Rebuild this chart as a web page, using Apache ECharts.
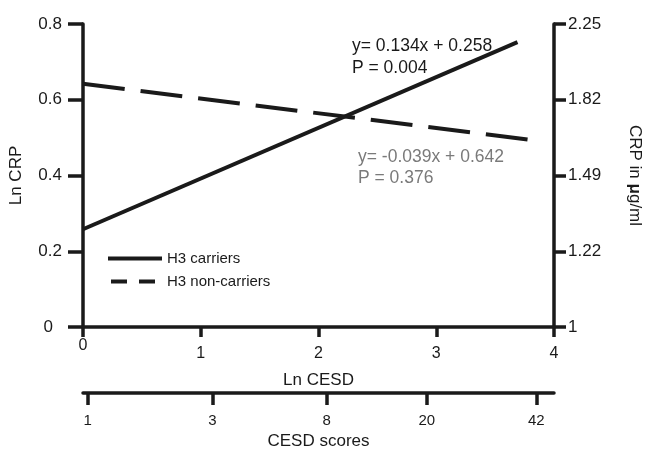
<!DOCTYPE html>
<html>
<head>
<meta charset="utf-8">
<script src="https://cdn.jsdelivr.net/npm/echarts@6/dist/echarts.min.js"></script>
<style>
html,body{margin:0;padding:0;background:#fff;}
#c{width:648px;height:449px;}
</style>
</head>
<body>
<div id="c"></div>
<script>
// ---- data ----
const carriersLine = [[0, 0.258], [3.69, 0.752]];
const nonCarriersLine = [[0, 0.642], [3.78, 0.495]];
const seriesNames = ['H3 carriers', 'H3 non-carriers'];
const leftTicks = [0, 0.2, 0.4, 0.6, 0.8];
const rightTickLabels = ['1', '1.22', '1.49', '1.82', '2.25'];
const cesdPositions = [0.04, 1.1, 2.07, 2.92, 3.85];
const cesdLabels = ['1', '3', '8', '20', '42'];
const carriersText = ['y= 0.134x + 0.258', 'P = 0.004'];
const nonCarriersText = ['y= -0.039x + 0.642', 'P = 0.376'];

const FONT = '"Liberation Sans", Arial, Helvetica, sans-serif';
const INK = '#1a1a1a';
const AXW = 3.5;

const chart = echarts.init(document.getElementById('c'), null, {renderer: 'canvas'});

const axisLineStyle = {show: true, onZero: false, lineStyle: {color: INK, width: AXW}};
const tickStyle = {show: true, length: 10, lineStyle: {color: INK, width: AXW}};

const option = {
  backgroundColor: '#fff',
  animation: false,
  textStyle: {fontFamily: FONT, color: INK},
  grid: {left: 83, right: 94, top: 24, bottom: 122, containLabel: false, outerBoundsMode: 'none'},
  legend: {
    orient: 'vertical',
    left: 101, top: 246,
    itemWidth: 54, itemHeight: 14, itemGap: 8,
    textStyle: {fontFamily: FONT, fontSize: 15, color: INK},
    data: [
      {name: seriesNames[0], itemStyle: {opacity: 0}, lineStyle: {type: 'solid', width: 4, color: INK}},
      {name: seriesNames[1], itemStyle: {opacity: 0}, lineStyle: {type: [16, 12], dashOffset: 25, width: 4, color: INK}}
    ]
  },
  xAxis: [
    {
      type: 'value', min: 0, max: 4, interval: 1,
      name: 'Ln CESD', nameLocation: 'middle', nameGap: 45,
      nameTextStyle: {fontFamily: FONT, fontSize: 17, color: INK},
      axisLine: axisLineStyle,
      axisTick: tickStyle,
      splitLine: {show: false},
      axisLabel: {
        margin: 11, fontFamily: FONT, fontSize: 16, color: INK,
        formatter: v => v === 0 ? '{z|0}' : '{n|' + v + '}',
        rich: {
          z: {fontFamily: FONT, fontSize: 16, color: INK, padding: [0, 0, 0, 0]},
          n: {fontFamily: FONT, fontSize: 16, color: INK, padding: [8, 0, 0, 0]}
        }
      }
    },
    {
      type: 'value', min: 0, max: 4, position: 'bottom', offset: 66,
      name: 'CESD scores', nameLocation: 'middle', nameGap: 40,
      nameTextStyle: {fontFamily: FONT, fontSize: 17, color: INK},
      axisLine: axisLineStyle,
      axisTick: {show: true, length: 12, lineStyle: {color: INK, width: AXW}, customValues: cesdPositions},
      splitLine: {show: false},
      axisLabel: {
        margin: 20, fontFamily: FONT, fontSize: 15, color: INK,
        customValues: cesdPositions,
        formatter: v => {
          const i = cesdPositions.findIndex(p => Math.abs(p - v) < 1e-6);
          return i >= 0 ? cesdLabels[i] : '';
        }
      }
    }
  ],
  yAxis: [
    {
      type: 'value', min: 0, max: 0.8, interval: 0.2, position: 'left',
      name: 'Ln CRP', nameLocation: 'middle', nameGap: 58,
      nameTextStyle: {fontFamily: FONT, fontSize: 17, color: INK},
      axisLine: axisLineStyle,
      axisTick: {show: true, length: 15, lineStyle: {color: INK, width: AXW}},
      splitLine: {show: false},
      axisLabel: {
        margin: 21, fontFamily: FONT, fontSize: 17, color: INK,
        formatter: v => {
          const i = leftTicks.findIndex(p => Math.abs(p - v) < 1e-6);
          return i === 0 ? '{z|0}' : '{n|' + leftTicks[i] + '}';
        },
        rich: {
          z: {fontFamily: FONT, fontSize: 17, color: INK, padding: [0, 9, 0, 0]},
          n: {fontFamily: FONT, fontSize: 17, color: INK}
        }
      }
    },
    {
      type: 'value', min: 0, max: 0.8, interval: 0.2, position: 'right',
      name: '{t|CRP in }{m|μ}{t|g/ml}', nameLocation: 'middle', nameGap: 72, nameRotate: -90,
      nameTextStyle: {
        fontFamily: FONT, fontSize: 17, color: INK,
        rich: {
          t: {fontFamily: FONT, fontSize: 17, color: INK},
          m: {fontFamily: FONT, fontSize: 17, color: INK, fontWeight: 'bold'}
        }
      },
      axisLine: axisLineStyle,
      axisTick: {show: true, length: 12, lineStyle: {color: INK, width: AXW}},
      splitLine: {show: false},
      axisLabel: {
        margin: 14, fontFamily: FONT, fontSize: 17, color: INK,
        formatter: v => {
          const i = leftTicks.findIndex(p => Math.abs(p - v) < 1e-6);
          return i >= 0 ? rightTickLabels[i] : '';
        }
      }
    }
  ],
  series: [
    {
      name: seriesNames[0], type: 'line', xAxisIndex: 0, yAxisIndex: 0,
      data: carriersLine, symbol: 'none', silent: true,
      lineStyle: {color: INK, width: 4, type: 'solid', cap: 'butt'},
      itemStyle: {color: INK}
    },
    {
      name: seriesNames[1], type: 'line', xAxisIndex: 0, yAxisIndex: 0,
      data: nonCarriersLine, symbol: 'none', silent: true,
      lineStyle: {color: INK, width: 4, type: [42, 16], cap: 'butt'},
      itemStyle: {color: INK}
    }
  ],
  graphic: [
    {type: 'text', left: 352, top: 35, silent: true,
     style: {text: carriersText.join('\n'), fill: INK, font: '17.5px ' + FONT, lineHeight: 22}},
    {type: 'text', left: 358, top: 147, silent: true,
     style: {text: nonCarriersText.join('\n'), fill: '#7a7a7a', font: '17.5px ' + FONT, lineHeight: 21}}
  ]
};
chart.setOption(option);
</script>
</body>
</html>
